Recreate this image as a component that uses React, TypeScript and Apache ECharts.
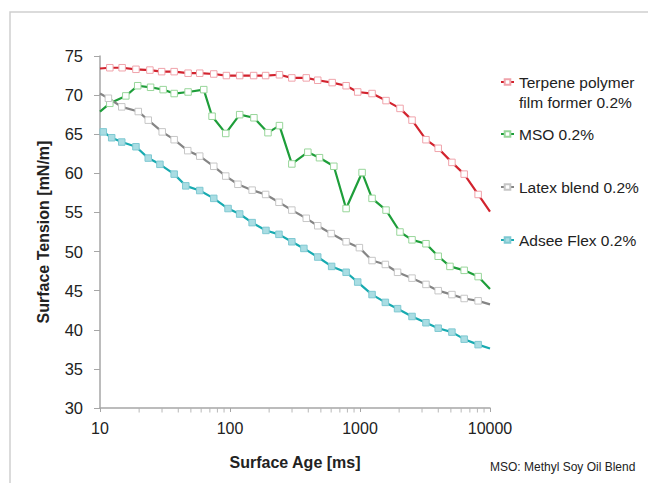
import React, { useEffect, useRef } from "react";
import * as echarts from "echarts";

// Surface age [ms] and surface tension [mN/m]
const terpeneX = [11.9, 14.8, 18.9, 24.2, 29.8, 37.2, 47.6, 58.5, 75, 93.8, 118.7, 152, 188, 240, 299, 386, 473, 611, 782, 960, 1238, 1586, 2031, 2513, 3217, 3995, 5093, 6329, 8104];
const terpeneY = [73.5, 73.5, 73.3, 73.2, 73.0, 73.0, 72.8, 72.8, 72.7, 72.5, 72.5, 72.5, 72.5, 72.6, 72.2, 72.2, 71.9, 71.6, 71.2, 70.4, 70.2, 69.3, 68.3, 66.8, 64.3, 63.2, 61.4, 59.9, 57.3];
const terpeneEnds = [73.4, 55.1];

const msoX = [11.9, 15.8, 19.5, 24.5, 30.6, 37.2, 47.6, 62.8, 72.8, 92.7, 118.7, 152.8, 196, 240, 299, 397, 488, 629, 782, 1038, 1238, 1586, 2031, 2513, 3217, 3995, 4920, 6329, 8104];
const msoY = [68.95, 69.9, 71.2, 71.0, 70.7, 70.2, 70.4, 70.7, 67.3, 65.1, 67.5, 67.1, 65.2, 66.1, 61.2, 62.7, 62.0, 60.9, 55.5, 60.1, 56.8, 55.3, 52.5, 51.5, 51.0, 49.4, 48.1, 47.6, 46.8];
const msoEnds = [67.9, 45.2];

const latexX = [11.6, 14.7, 19.7, 23.5, 30.1, 37.2, 47.3, 58.5, 75, 92.7, 115, 148, 188, 238, 299, 386, 473, 600, 782, 989, 1238, 1567, 1945, 2513, 3217, 3995, 5093, 6329, 8104];
const latexY = [69.6, 68.5, 67.9, 66.8, 65.3, 64.3, 62.9, 62.2, 60.9, 59.65, 58.6, 57.85, 57.3, 56.3, 55.3, 54.25, 53.3, 52.3, 51.25, 50.5, 48.85, 48.35, 47.35, 46.6, 45.8, 45.0, 44.5, 44.0, 43.7];
const latexEnds = [70.2, 43.25];

const adseeX = [10.6, 12.3, 14.7, 18.9, 23.5, 28.9, 37.2, 45.7, 58.5, 75, 96.6, 118.7, 148, 189, 238, 299, 370, 473, 605, 782, 960, 1238, 1567, 1945, 2513, 3217, 3995, 5093, 6329, 8104];
const adseeY = [65.3, 64.55, 64.0, 63.4, 61.95, 61.15, 59.9, 58.4, 57.8, 56.8, 55.5, 54.8, 53.7, 52.7, 52.2, 51.25, 50.4, 49.3, 48.1, 47.35, 46.1, 44.5, 43.5, 42.7, 41.7, 40.9, 40.2, 39.7, 38.8, 38.1];
const adseeEnds = [65.4, 37.6];

const minorTickValues = [20, 30, 40, 50, 60, 70, 80, 90, 200, 300, 400, 500, 600, 700, 800, 900, 2000, 3000, 4000, 5000, 6000, 7000, 8000, 9000];

const names = [
  "Terpene polymer film former 0.2%",
  "MSO 0.2%",
  "Latex blend 0.2%",
  "Adsee Flex 0.2%",
];

const FONT = "'Liberation Sans', Arial, sans-serif";

function build(xs: number[], ys: number[], ends: number[], withStart = true) {
  const d: any[] = [];
  if (withStart) d.push({ value: [10, ends[0]], symbol: "none" });
  xs.forEach((x, i) => d.push([x, ys[i]]));
  d.push({ value: [10000, ends[1]], symbol: "none" });
  return d;
}

export default function App() {
  const ref = useRef<HTMLDivElement>(null);
  useEffect(() => {
    if (!ref.current) return;
    const chart = echarts.init(ref.current, undefined, { renderer: "svg" });
    const mk = (name: string, data: any[], line: string, fill: string, border: string) => ({
      name,
      type: "line",
      data,
      symbol: "rect",
      symbolSize: 6.5,
      showAllSymbol: true,
      lineStyle: { color: line, width: 2.2 },
      itemStyle: { color: fill, borderColor: border, borderWidth: 1 },
      emphasis: { disabled: true },
      z: 3,
    });
    const legendBase = {
      orient: "vertical",
      left: 500,
      itemWidth: 13,
      itemHeight: 7,
      padding: 0,
      selectedMode: false,
      textStyle: { fontSize: 15.5, color: "#222", fontFamily: FONT, lineHeight: 20 },
    };
    chart.setOption({
      animation: false,
      backgroundColor: "#fff",
      grid: { left: 100, right: 158, top: 56, bottom: 75 },
      graphic: [
        {
          type: "rect",
          shape: { x: 10, y: 12, width: 700, height: 600 },
          style: { fill: "none", stroke: "#cfcfcf", lineWidth: 1.5 },
          silent: true,
          z: -10,
        },
        {
          type: "text",
          left: 490,
          top: 461,
          style: { text: "MSO: Methyl Soy Oil Blend", fontSize: 12, fill: "#222", fontFamily: FONT },
        },
      ],
      legend: [
        { ...legendBase, top: 52, data: [names[0]], formatter: () => "\nTerpene polymer\nfilm former 0.2%" },
        { ...legendBase, top: 124, data: [names[1]] },
        { ...legendBase, top: 177, data: [names[2]] },
        { ...legendBase, top: 230, data: [names[3]] },
      ],
      xAxis: {
        type: "log",
        logBase: 10,
        min: 10,
        max: 10000,
        name: "Surface Age [ms]",
        nameLocation: "middle",
        nameGap: 46,
        nameTextStyle: { fontSize: 16, fontWeight: "bold", color: "#222", fontFamily: FONT },
        axisLine: { lineStyle: { color: "#a6a6a6", width: 1.5 } },
        axisTick: { length: 4, lineStyle: { color: "#a6a6a6" } },
        axisLabel: {
          fontSize: 16,
          color: "#222",
          fontFamily: FONT,
          margin: 12,
          formatter: (v: number) => String(Math.round(v)),
        },
        splitLine: { show: false },
      },
      yAxis: {
        type: "value",
        min: 30,
        max: 75,
        interval: 5,
        name: "Surface Tension [mN/m]",
        nameLocation: "middle",
        nameGap: 49,
        nameTextStyle: { fontSize: 16, fontWeight: "bold", color: "#222", fontFamily: FONT },
        axisLine: { show: true, lineStyle: { color: "#a6a6a6", width: 1.5 } },
        axisTick: { show: true, length: 6, lineStyle: { color: "#a6a6a6" } },
        axisLabel: { fontSize: 16.5, color: "#222", fontFamily: FONT, margin: 17 },
        splitLine: { show: false },
      },
      series: [
        mk(names[0], build(terpeneX, terpeneY, terpeneEnds), "#d2232e", "#ffffff", "#f0a3ab"),
        mk(names[1], build(msoX, msoY, msoEnds), "#1e9e3a", "#ffffff", "#98d69a"),
        mk(names[2], build(latexX, latexY, latexEnds), "#858585", "#ffffff", "#c6c6c6"),
        mk(names[3], build(adseeX, adseeY, adseeEnds, false), "#17aab0", "#a9dde3", "#7fc9d2"),
        {
          name: "minorTicks",
          type: "scatter",
          data: minorTickValues.map((v) => [v, 30]),
          symbol: "rect",
          symbolSize: [1, 4],
          symbolOffset: [0, 2.5],
          itemStyle: { color: "#a6a6a6" },
          clip: false,
          silent: true,
          z: 1,
        },
      ],
    });
    return () => chart.dispose();
  }, []);
  return (
    <div
      ref={ref}
      style={{ position: "fixed", left: 0, top: 0, width: 648, height: 483 }}
    />
  );
}
